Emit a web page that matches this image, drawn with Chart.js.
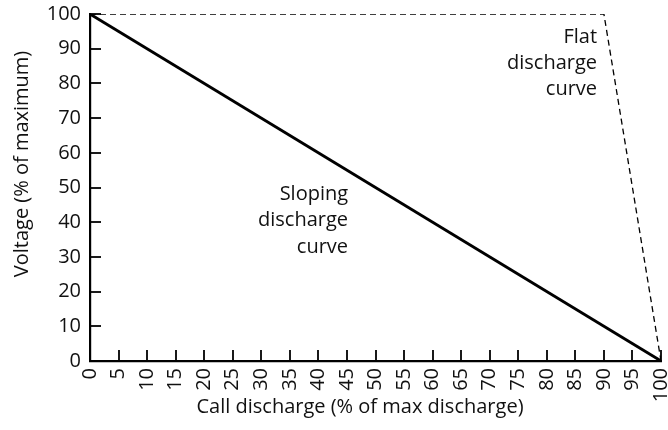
<!DOCTYPE html>
<html>
<head>
<meta charset="utf-8">
<script src="https://cdn.jsdelivr.net/npm/chart.js@4/dist/chart.umd.min.js"></script>
<style>
  html, body { margin: 0; padding: 0; background: #fff; }
  #wrap { width: 668px; height: 430px; }
</style>
</head>
<body>
<div id="wrap"><canvas id="c" width="668" height="430"></canvas></div>
<script>
// Discharge (% of max) vs voltage (% of maximum)
const slopingX = [0, 100];
const slopingY = [100, 0];
const flatX = [0, 90, 100];
const flatY = [100, 100, 0];
const xTicks = [0, 5, 10, 15, 20, 25, 30, 35, 40, 45, 50, 55, 60, 65, 70, 75, 80, 85, 90, 95, 100];
const yTicks = [0, 10, 20, 30, 40, 50, 60, 70, 80, 90, 100];
const flatLabel = ['Flat', 'discharge', 'curve'];
const slopingLabel = ['Sloping', 'discharge', 'curve'];
const xTitle = 'Call discharge (% of max discharge)';
const yTitle = 'Voltage (% of maximum)';

const FONT = "'Open Sans', 'Noto Sans', sans-serif";
const FONT_SIZE = 20;
const toPts = (xs, ys) => xs.map((x, i) => ({ x: x, y: ys[i] }));

// Short tick marks pointing into the plot, axis titles and the two text notes
const decorations = {
  id: 'decorations',
  afterDatasetsDraw(chart) {
    const { ctx, scales: { x, y } } = chart;
    ctx.save();
    ctx.strokeStyle = '#000';
    ctx.lineWidth = 1.8;
    xTicks.forEach(v => {
      if (v === 0) return;
      const px = Math.round(x.getPixelForValue(v));
      ctx.beginPath();
      ctx.moveTo(px, y.bottom);
      ctx.lineTo(px, y.bottom - 11);
      ctx.stroke();
    });
    yTicks.forEach(v => {
      if (v === 0) return;
      const py = Math.round(y.getPixelForValue(v));
      ctx.beginPath();
      ctx.moveTo(x.left, py);
      ctx.lineTo(x.left + 11, py);
      ctx.stroke();
    });

    ctx.fillStyle = '#111';
    ctx.font = FONT_SIZE + 'px ' + FONT;

    // notes, right aligned, anchored on data coordinates
    ctx.textAlign = 'right';
    ctx.textBaseline = 'alphabetic';
    const note = (lines, vx, vy, step) => {
      const px = x.getPixelForValue(vx);
      const py = y.getPixelForValue(vy);
      lines.forEach((t, i) => ctx.fillText(t, px, py + i * step));
    };
    note(flatLabel, 88.8, 91.6, 26);
    note(slopingLabel, 45.2, 46.4, 26.5);

    // axis titles
    ctx.textAlign = 'center';
    ctx.textBaseline = 'middle';
    ctx.fillText(xTitle, 360, 407);
    ctx.save();
    ctx.translate(22, 164);
    ctx.rotate(-Math.PI / 2);
    ctx.fillText(yTitle, 0, 0);
    ctx.restore();

    ctx.restore();
  }
};

new Chart(document.getElementById('c'), {
  type: 'scatter',
  data: {
    datasets: [
      {
        data: toPts(slopingX, slopingY),
        showLine: true,
        borderColor: '#000',
        borderWidth: 2.8,
        pointRadius: 0,
        fill: false
      },
      {
        data: toPts(flatX, flatY),
        showLine: true,
        borderColor: '#000',
        borderWidth: 1.3,
        borderDash: [6, 4],
        pointRadius: 0,
        fill: false
      }
    ]
  },
  options: {
    responsive: false,
    animation: false,
    devicePixelRatio: 1,
    layout: { padding: { top: 14, right: 7, left: 0, bottom: 0 } },
    plugins: { legend: { display: false }, tooltip: { enabled: false } },
    scales: {
      x: {
        type: 'linear',
        min: 0, max: 100,
        afterBuildTicks: s => { s.ticks = xTicks.map(v => ({ value: v })); },
        afterFit: s => { s.height = 69; s.paddingLeft = 0; s.paddingRight = 0; },
        grid: { display: false, drawTicks: false },
        border: { display: true, color: '#000', width: 2.2 },
        ticks: {
          color: '#111',
          font: { family: FONT, size: FONT_SIZE },
          minRotation: 90, maxRotation: 90,
          padding: 7,
          autoSkip: false
        }
      },
      y: {
        type: 'linear',
        min: 0, max: 100,
        afterBuildTicks: s => { s.ticks = yTicks.map(v => ({ value: v })); },
        afterFit: s => { s.width = 90; s.paddingTop = 0; s.paddingBottom = 0; },
        grid: { display: false, drawTicks: false },
        border: { display: true, color: '#000', width: 2.2 },
        ticks: {
          color: '#111',
          font: { family: FONT, size: FONT_SIZE },
          padding: 9
        }
      }
    }
  },
  plugins: [decorations]
});
</script>
</body>
</html>
